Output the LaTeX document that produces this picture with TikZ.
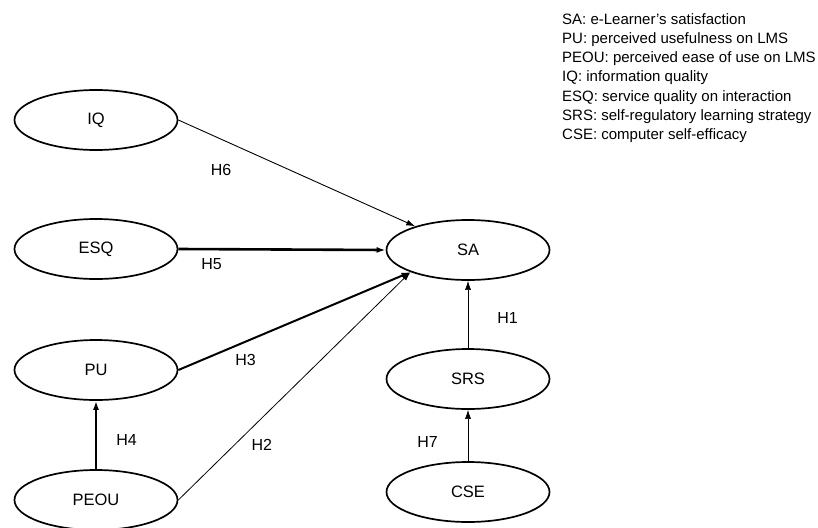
\documentclass[tikz,border=0pt]{standalone}
\usepackage{fontspec}
\setmainfont{Liberation Sans}
\usetikzlibrary{positioning, shapes.geometric, arrows.meta}

\begin{document}
\begin{tikzpicture}[x=1pt, y=-1pt,
               construct/.style ={ellipse, draw, line width=1.7pt, minimum width=163pt,
               minimum height=60pt, inner sep=0pt, font=\fontsize{16.5}{19}\selectfont},
               link/.style ={-{Latex[length=9pt, width=6pt]}},
               hyp/.style ={font=\fontsize{16}{19}\selectfont, inner sep=0pt}]

           % marco de la figura
           \useasboundingbox (0,0) rectangle (818,527);

           \node[construct] (IQ) at (96, 120) {IQ};
           \node[construct] (ESQ) at (96, 249) {ESQ};
           \node[construct] (PU) at (96, 370) {PU};
           \node[construct] (PEOU) at (96, 500) {PEOU};
           \node[construct] (SA) at (468, 250) {SA};
           \node[construct] (SRS) at (468, 379) {SRS};
           \node[construct] (CSE) at (468, 492) {CSE};

           \path (IQ.east) edge [link, line width=0.9pt] node[hyp, below = 25pt, pos = 0.18] (h6) {H6} (SA);
           \path (ESQ.east) edge [link, line width=2.6pt] node[hyp, below = 8pt, pos = 0.16] (h5) {H5} (SA.west);
           \path (PU.east) edge [link, line width=2pt] node[hyp, below = 12pt, pos = 0.29] (h3) {H3} (SA.201);
           \path (PEOU.east) edge [link, line width=0.8pt] node[hyp, below = 21pt, pos = 0.36] (h2) {H2} (SA.201);

           \path (PEOU.north) edge [link, line width=2.6pt] node[hyp, right = 19pt, pos = 0.42] (h4) {H4} (PU.south);

           \path (SRS.north) edge [link, line width=0.6pt] node[hyp, right = 29pt, pos = 0.45] (h1) {H1} (SA.south);
           \path (CSE.north) edge [link, line width=0.6pt] node[hyp, left = 30pt, pos = 0.37] (h7) {H7} (SRS.south);

           %leyenda
           \node[anchor = north west, align = left, inner sep = 0pt,
                 font=\fontsize{15}{19.3}\selectfont] (legend) at (562, 13)
                 {SA: e-Learner's satisfaction\\
                  PU: perceived usefulness on LMS\\
                  PEOU: perceived ease of use on LMS\\
                  IQ: information quality\\
                  ESQ: service quality on interaction\\
                  SRS: self-regulatory learning strategy\\
                  CSE: computer self-efficacy};

       \end{tikzpicture}
\end{document}
